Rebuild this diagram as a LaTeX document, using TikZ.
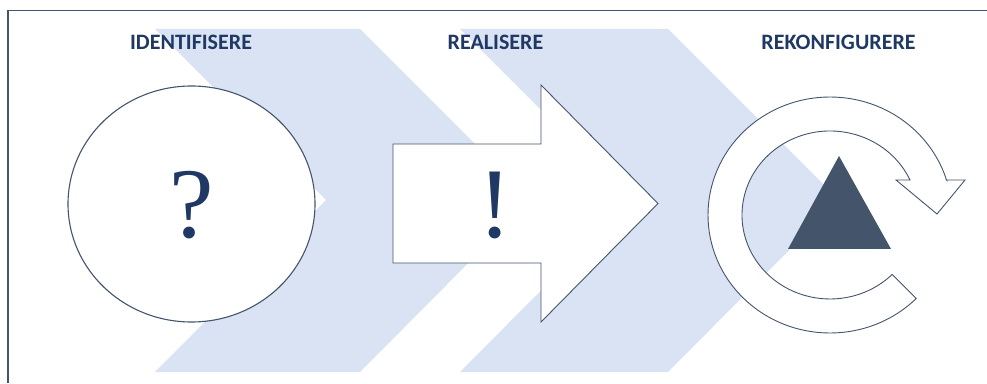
\documentclass[tikz,border=0pt]{standalone}
\usepackage{fontspec}
\setmainfont{Liberation Serif}
\newfontfamily\titlefont{Carlito}
\usetikzlibrary{shapes.geometric}
\definecolor{chev}{HTML}{DAE3F3}
\definecolor{slate}{HTML}{44546A}
\definecolor{navy}{HTML}{1F3864}
\tikzset{
  chevron/.style={fill=chev, draw=none},
  outline/.style={draw=slate, line width=0.9pt, fill=white, line join=miter},
  titletext/.style={font=\titlefont\bfseries\fontsize{22}{26}\selectfont, text=navy, inner sep=0pt},
  bigsign/.style={font=\fontsize{100}{110}\selectfont, text=navy, inner sep=0pt},
}
\begin{document}
\begin{tikzpicture}[x=1pt,y=1pt]
\useasboundingbox (0,0) rectangle (987,383);
% frame
\draw[slate, line width=1.3pt] (8,0) -- (8,372.5) -- (987,372.5);
% chevrons
\fill[chevron] (155,354) -- (360,354) -- (531,183) -- (360,11) -- (155,11) -- (326,183) -- cycle;
\fill[chevron] (460,354) -- (668,354) -- (839,183) -- (668,11) -- (460,11) -- (631,183) -- cycle;
% titles
\node[titletext] (t1) at (191,340.5) {IDENTIFISERE};
\node[titletext] (t2) at (495.5,340.5) {REALISERE};
\node[titletext] (t3) at (838.5,340.5) {REKONFIGURERE};
% circle with question mark
\node[outline, ellipse, minimum width=247pt, minimum height=236pt, inner sep=0pt, line width=1.1pt] (circ) at (191.5,179) {};
\node[bigsign] (q) at (191.5,177.5) {?};
% arrow with exclamation mark
\draw[outline] (393,239) -- (541,239) -- (541,298) -- (658,179.5) -- (541,61) -- (541,120) -- (393,120) -- cycle;
\node[bigsign] (ex) at (495,177.5) {!};
% circular arrow
\coordinate (rc) at (830,168);
\draw[outline] (946.5,203) -- (965,203) -- (937,169) -- (896,203) -- (910,203)
  arc[start angle=24.62, end angle=315, x radius=88, y radius=84]
  -- (916.27,84.56)
  arc[start angle=315, end angle=17.25, x radius=122, y radius=118] -- cycle;
% triangle
\fill[slate] (839,227) -- (788,134) -- (891,134) -- cycle;
\end{tikzpicture}
\end{document}
